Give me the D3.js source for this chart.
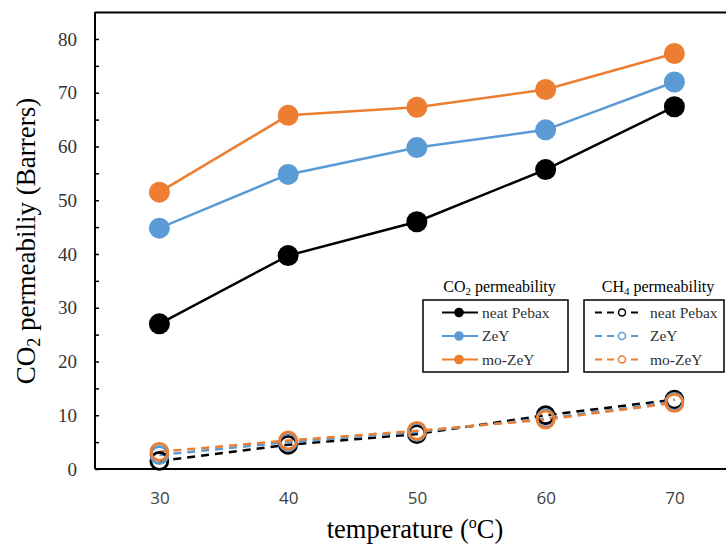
<!DOCTYPE html>
<html><head><meta charset="utf-8">
<script src="https://cdn.jsdelivr.net/npm/d3@7"></script>
<style>body{margin:0;background:#fff}svg{display:block}svg text{font-family:"Liberation Serif","Times New Roman",serif}</style>
</head><body>
<script>
const temperatures = [30, 40, 50, 60, 70];
const co2Neat = [27.0, 39.7, 46.0, 55.7, 67.4];
const co2ZeY = [44.8, 54.8, 59.8, 63.1, 72.0];
const co2MoZeY = [51.5, 65.8, 67.3, 70.6, 77.3];
const ch4Neat = [1.5, 4.5, 6.5, 10.0, 12.9];
const ch4ZeY = [2.6, 5.0, 6.9, 9.4, 12.5];
const ch4MoZeY = [3.2, 5.3, 7.1, 9.2, 12.3];
const yTicks = [0, 10, 20, 30, 40, 50, 60, 70, 80];
const seriesNames = ["neat Pebax", "ZeY", "mo-ZeY"];
const colors = ["#000000", "#5B9BD5", "#ED7D31"];

const W = 726, H = 545;
const svg = d3.select("body").append("svg").attr("width", W).attr("height", H);

const x = d3.scaleLinear().domain([25, 75]).range([95, 738.75]);
const y = d3.scaleLinear().domain([0, 85]).range([469, 12.1]);

// frame
svg.append("line").attr("x1", 95).attr("x2", W).attr("y1", 12.5).attr("y2", 12.5).attr("stroke", "#000").attr("stroke-width", 2);

// y axis
const yAxis = d3.axisLeft(y).tickValues(d3.range(0, 85, 5)).tickSizeInner(-4).tickSizeOuter(0).tickFormat(() => "");
const gy = svg.append("g").attr("transform", "translate(95,0)").call(yAxis);
gy.select(".domain").attr("stroke", "#000").attr("stroke-width", 2).attr("d", "M0,12V469");
gy.selectAll(".tick line").attr("stroke", "#000").attr("stroke-width", 1.5);
svg.append("g").selectAll("text").data(yTicks).join("text")
  .attr("x", 77).attr("y", d => y(d)).attr("dy", "0.35em").attr("text-anchor", "end")
  .attr("font-size", 19).attr("fill", "#333").text(d => d);

// x axis
const xAxis = d3.axisBottom(x).tickValues(temperatures).tickSize(0).tickPadding(23);
const gx = svg.append("g").attr("transform", "translate(0,469)").call(xAxis);
gx.select(".domain").attr("stroke", "#000").attr("stroke-width", 2).attr("d", "M95,0H726");
gx.selectAll("text").attr("font-size", 17).attr("fill", "#404040")
  .style("font-family", "'Open Sans', 'Liberation Sans', sans-serif");

// titles
const yt = svg.append("text").attr("transform", "translate(35,241) rotate(-90)").attr("text-anchor", "middle")
  .attr("font-size", 27).attr("fill", "#000");
yt.append("tspan").text("CO");
yt.append("tspan").attr("font-size", 18).attr("dy", 5).text("2");
yt.append("tspan").attr("dy", -5).text(" permeabiliy (Barrers)");

const xt = svg.append("text").attr("x", 415).attr("y", 538).attr("text-anchor", "middle")
  .attr("font-size", 26.5).attr("fill", "#000");
xt.append("tspan").text("temperature (");
xt.append("tspan").attr("font-size", 16).attr("dy", -10).text("o");
xt.append("tspan").attr("dy", 10).text("C)");

const line = d3.line().x((d, i) => x(temperatures[i])).y(d => y(d));

// CH4 dashed series
const ch4 = [ch4Neat, ch4ZeY, ch4MoZeY];
ch4.forEach((s, k) => {
  svg.append("path").datum(s).attr("d", line).attr("fill", "none").attr("stroke", colors[k])
    .attr("stroke-width", 2.5).attr("stroke-dasharray", "8,6");
});
ch4.forEach((s, k) => {
  svg.append("g").selectAll("circle").data(s).join("circle")
    .attr("cx", (d, i) => x(temperatures[i])).attr("cy", d => y(d)).attr("r", 8.5)
    .attr("fill", "none").attr("stroke", colors[k]).attr("stroke-width", 2.8);
});

// CO2 solid series
const co2 = [co2Neat, co2ZeY, co2MoZeY];
co2.forEach((s, k) => {
  svg.append("path").datum(s).attr("d", line).attr("fill", "none").attr("stroke", colors[k]).attr("stroke-width", 2.5);
  svg.append("g").selectAll("circle").data(s).join("circle")
    .attr("cx", (d, i) => x(temperatures[i])).attr("cy", d => y(d)).attr("r", 10.5).attr("fill", colors[k]);
});

// legends
function legend(x0, w, title, sub, dashed) {
  const t = svg.append("text").attr("x", x0 + w / 2 + 4).attr("y", 292).attr("text-anchor", "middle")
    .attr("font-size", 16).attr("fill", "#000");
  t.append("tspan").text(title);
  t.append("tspan").attr("font-size", 11).attr("dy", 3).text(sub);
  t.append("tspan").attr("dy", -3).text(" permeability");
  svg.append("rect").attr("x", x0).attr("y", 300).attr("width", w).attr("height", 72)
    .attr("fill", "#fff").attr("stroke", "#000").attr("stroke-width", 1.5);
  seriesNames.forEach((n, k) => {
    const yy = 312.5 + k * 23.5;
    if (dashed) {
      svg.append("line").attr("x1", x0 + 11).attr("x2", x0 + 58).attr("y1", yy).attr("y2", yy)
        .attr("stroke", colors[k]).attr("stroke-width", 2).attr("stroke-dasharray", "7,5");
      svg.append("circle").attr("cx", x0 + 38).attr("cy", yy).attr("r", 3.5).attr("fill", "#fff")
        .attr("stroke", colors[k]).attr("stroke-width", 1.5);
      svg.append("text").attr("x", x0 + 66).attr("y", yy).attr("dy", "0.35em")
        .attr("font-size", 15.5).attr("fill", "#333").text(n);
    } else {
      svg.append("line").attr("x1", x0 + 19).attr("x2", x0 + 55).attr("y1", yy).attr("y2", yy)
        .attr("stroke", colors[k]).attr("stroke-width", 2);
      svg.append("circle").attr("cx", x0 + 36).attr("cy", yy).attr("r", 4.8).attr("fill", colors[k]);
      svg.append("text").attr("x", x0 + 59).attr("y", yy).attr("dy", "0.35em")
        .attr("font-size", 15.5).attr("fill", "#333").text(n);
    }
  });
}
legend(423, 145, "CO", "2", false);
legend(584, 140, "CH", "4", true);
</script>
</body></html>
